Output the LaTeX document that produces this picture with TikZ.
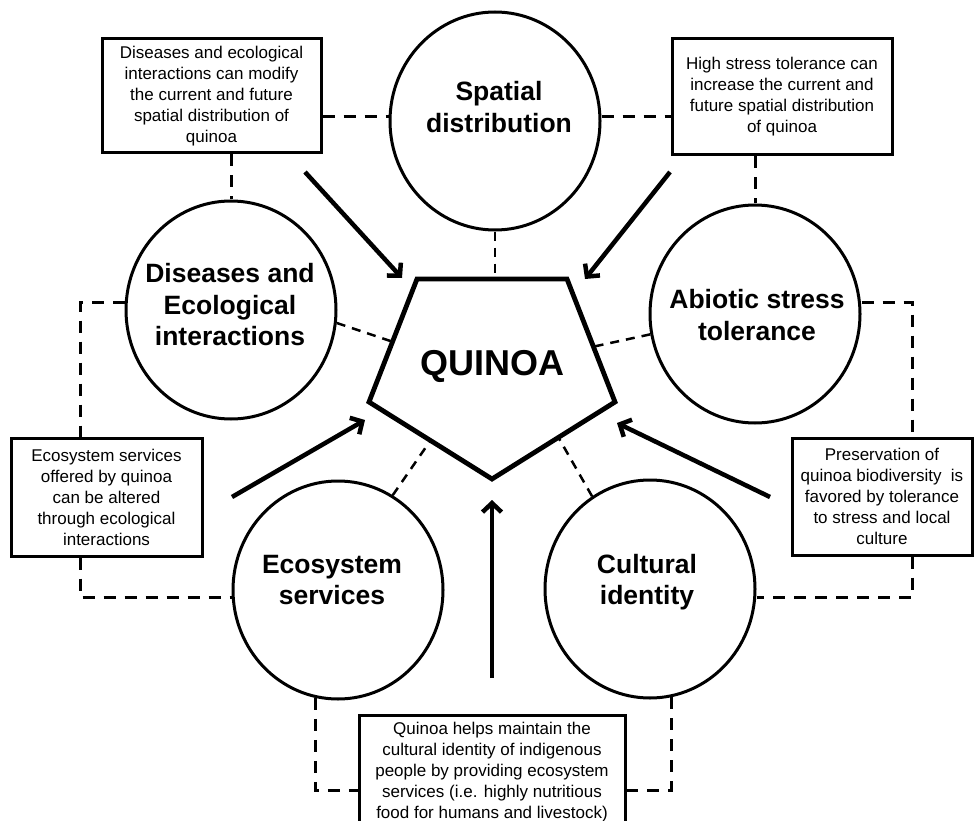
\documentclass[tikz,border=0pt]{standalone}
\usepackage{fontspec}
\setmainfont{Liberation Sans}
\usetikzlibrary{arrows.meta,shapes.geometric,calc}
\begin{document}
\begin{tikzpicture}[x=1pt,y=-1pt,
  circ/.style={draw,ellipse,line width=3pt,minimum width=210pt,minimum height=218pt,inner sep=0pt},
  ctext/.style={font=\bfseries\fontsize{26.5}{31.5}\selectfont,align=center,inner sep=0pt},
  tbox/.style={draw,line width=3pt,align=center,inner sep=0pt,font=\fontsize{17}{21}\selectfont},
  odash/.style={line width=3pt,dash pattern=on 12pt off 9pt},
  idash/.style={line width=2.5pt,dash pattern=on 9pt off 7pt},
  arr/.style={line width=4.5pt,-{Straight Barb[length=9pt,width=19pt,line width=4.5pt]}},
  pent/.style={line width=4.8pt,line join=miter}
]
\useasboundingbox (0,0) rectangle (974,821);
\clip (0,0) rectangle (974,821);

% circles
\node[circ] (sp)  at (495,121) {};
\node[circ] (dis) at (231,310) {};
\node[circ] (abi) at (755,314) {};
\node[circ] (eco) at (338,590) {};
\node[circ] (cul) at (650,589) {};

\node[ctext] (spt)  at (499,107) {Spatial\\distribution};
\node[ctext] (dist) at (230,305) {Diseases and\\Ecological\\interactions};
\node[ctext] (abit) at (757,315) {Abiotic stress\\tolerance};
\node[ctext] (ecot) at (332,580) {Ecosystem\\services};
\node[ctext] (cult) at (647,582) {Cultural\\identity};

% pentagon
\coordinate (pTL) at (417,279);
\coordinate (pTR) at (567,279);
\coordinate (pR)  at (615,402);
\coordinate (pB)  at (492,479);
\coordinate (pL)  at (369,402);
\draw[pent] (pTL) -- (pTR) -- (pR) -- (pB) -- (pL) -- cycle;
\node[font=\bfseries\fontsize{36}{40}\selectfont,inner sep=0pt] (q) at (492,366) {QUINOA};

% boxes
\node[tbox,minimum width=219pt,minimum height=114pt] (b1) at (211.5,96)
  {Diseases and ecological\\interactions can modify\\the current and future\\spatial distribution of\\quinoa};
\node[tbox,minimum width=220pt,minimum height=116pt] (b2) at (782,97)
  {High stress tolerance can\\increase the current and\\future spatial distribution\\of quinoa};
\node[tbox,minimum width=191pt,minimum height=118pt] (b3) at (106.5,497)
  {Ecosystem services\\offered by quinoa\\can be altered\\through ecological\\interactions};
\node[tbox,minimum width=180pt,minimum height=117pt] (b4) at (882,496.5)
  {Preservation of\\quinoa biodiversity\ \ is\\favored by tolerance\\to stress and local\\culture};
\node[tbox,minimum width=266pt,minimum height=115pt] (b5) at (492,772.5)
  {Quinoa helps maintain the\\cultural identity of indigenous\\people by providing ecosystem\\services (i.e. highly nutritious\\food for humans and livestock)};

% inner dashed links
\draw[idash] (sp.south) -- (sp.south |- pTL);
\draw[idash] (dis.-7) -- ($(pTL)!0.51!(pL)$);
\draw[idash] (abi.191) -- ($(pTR)!0.55!(pR)$);
\draw[idash] (eco.60) -- ($(pL)!0.5!(pB)$);
\draw[idash] (cul.122) -- ($(pR)!0.46!(pB)$);

% outer dashed links
\draw[odash] (b1.east |- 0,117) -- (sp.west |- 0,117);
\draw[odash] (b1.south -| dis.north) -- (dis.north);
\draw[odash] (sp.east |- 0,117) -- (b2.west |- 0,117);
\draw[odash] (b2.south -| abi.north) -- (abi.north);
\draw[odash] (dis.west |- 0,302) -| (b3.north -| 80,0);
\draw[odash] (b3.south -| 80,0) |- (eco.west |- 0,597);
\draw[odash] (abi.east |- 0,302) -| (b4.north -| 912,0);
\draw[odash] (b4.south -| 912,0) |- (cul.east |- 0,597);
\draw[odash] (eco.-102) |- (b5.west |- 0,790);
\draw[odash] (cul.-79) |- (b5.east |- 0,790);

% arrows
\coordinate (a1s) at (305,172); \coordinate (a1e) at (402,278);
\coordinate (a2s) at (670,172); \coordinate (a2e) at (585,279);
\coordinate (a3s) at (232,497); \coordinate (a3e) at (365,420);
\coordinate (a4s) at (770,497); \coordinate (a4e) at (617,423);
\coordinate (a5s) at (492,678); \coordinate (a5e) at (492,500);
\draw[arr] (a1s) -- (a1e);
\draw[arr] (a2s) -- (a2e);
\draw[arr] (a3s) -- (a3e);
\draw[arr] (a4s) -- (a4e);
\draw[arr] (a5s) -- (a5e);
\end{tikzpicture}
\end{document}
